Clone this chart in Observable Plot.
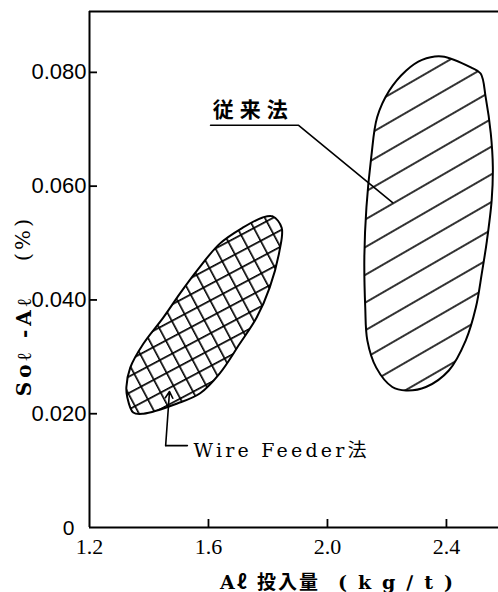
<!DOCTYPE html>
<html><head><meta charset="utf-8">
<script src="https://cdn.jsdelivr.net/npm/d3@7"></script>
<script src="https://cdn.jsdelivr.net/npm/@observablehq/plot@0.6"></script>
<style>body{margin:0;background:#fff} #chart svg{display:block}</style>
</head><body><div id="chart"></div>
<script>
// axis ticks
const xTicks = [1.2, 1.6, 2.0, 2.4];
const yTicks = [0.02, 0.04, 0.06, 0.08];
// Wire Feeder法 region outline (Aℓ kg/t, Soℓ-Aℓ %)
const wireFeeder = [
  [1.782, 0.0545], [1.816, 0.0547], [1.846, 0.0527], [1.839, 0.0487], [1.806, 0.0422],
  [1.762, 0.0369], [1.705, 0.0323], [1.638, 0.0271], [1.572, 0.0236], [1.495, 0.0218],
  [1.381, 0.0200], [1.347, 0.0202], [1.327, 0.0229], [1.324, 0.0247], [1.337, 0.0281],
  [1.381, 0.0323], [1.448, 0.0369], [1.505, 0.0412], [1.562, 0.0452], [1.638, 0.0499],
  [1.715, 0.0527]
];
// 従来法 region outline
const conventional = [
  [2.385, 0.0828], [2.485, 0.0808], [2.515, 0.0798], [2.532, 0.0756], [2.549, 0.0693],
  [2.556, 0.0633], [2.552, 0.0575], [2.536, 0.0504], [2.519, 0.0447], [2.499, 0.0387],
  [2.465, 0.0329], [2.408, 0.0276], [2.331, 0.0247], [2.264, 0.0241], [2.218, 0.0247],
  [2.164, 0.0281], [2.134, 0.0329], [2.127, 0.0387], [2.124, 0.0475], [2.131, 0.0563],
  [2.147, 0.0650], [2.167, 0.0721], [2.208, 0.0768], [2.264, 0.0803], [2.318, 0.0822]
];
// leader lines
const convLeader = [[1.607, 0.0707], [1.903, 0.0707], [2.219, 0.0571]];
const wireLeader = [[1.529, 0.0144], [1.456, 0.0144]];
const wireArrow = [{x1: 1.456, y1: 0.0144, x2: 1.469, y2: 0.0239}];
// annotation labels
const convLabel = [{x: 1.614, y: 0.0733, text: "従来法"}];
const wireLabel = [{x: 1.550, y: 0.0135, text: "Wire Feeder法"}];

const xDomain = [1.2, 2.575], yDomain = [0, 0.0907];
const W = 498, H = 592, ML = 89, MT = 11, MB = 65, TICK = 8;
// tick length (8 px) expressed in data units of each scale
const tickLenX = TICK * (xDomain[1] - xDomain[0]) / (W - ML);
const tickLenY = TICK * (yDomain[1] - yDomain[0]) / (H - MT - MB);
const px = d => d[0], py = d => d[1];
const chart = Plot.plot({
  width: W, height: H,
  marginLeft: ML, marginRight: 0, marginTop: MT, marginBottom: MB,
  x: {domain: xDomain},
  y: {domain: yDomain},
  style: {background: "#fff", color: "#000"},
  marks: [
    Plot.line(wireFeeder, {x: px, y: py, curve: "catmull-rom-closed", fill: "url(#cross)", stroke: "#000", strokeWidth: 2}),
    Plot.line(conventional, {x: px, y: py, curve: "catmull-rom-closed", fill: "url(#hatch)", stroke: "#000", strokeWidth: 2}),
    Plot.line(convLeader, {x: px, y: py, stroke: "#000", strokeWidth: 1.6}),
    Plot.line(wireLeader, {x: px, y: py, stroke: "#000", strokeWidth: 1.6}),
    Plot.arrow(wireArrow, {x1: "x1", y1: "y1", x2: "x2", y2: "y2", stroke: "#000", strokeWidth: 1.6, headLength: 7}),
    Plot.ruleX([xDomain[0]], {stroke: "#000", strokeWidth: 2}),
    Plot.ruleY([0], {stroke: "#000", strokeWidth: 2}),
    Plot.ruleY([yDomain[1]], {stroke: "#000", strokeWidth: 2}),
    // inward tick marks
    Plot.ruleX(xTicks.slice(1), {x: d => d, y1: 0, y2: tickLenY, stroke: "#000", strokeWidth: 1.8}),
    Plot.ruleY(yTicks, {y: d => d, x1: xDomain[0], x2: xDomain[0] + tickLenX, stroke: "#000", strokeWidth: 1.8}),
    Plot.axisY(yTicks, {tickSize: 0, tickPadding: 3, tickFormat: d3.format(".3f"), label: null,
      fontFamily: "Liberation Sans", fontSize: 22}),
    Plot.axisX(xTicks, {tickSize: 0, tickPadding: 11, tickFormat: d3.format(".1f"), label: null,
      fontFamily: "Liberation Serif", fontSize: 22}),
    Plot.text(["0"], {frameAnchor: "bottom-left", dx: -21, dy: 1, textAnchor: "middle", lineAnchor: "middle",
      fontFamily: "Liberation Sans", fontSize: 21}),
    Plot.text(convLabel, {x: "x", y: "y", text: "text", textAnchor: "start", fontFamily: "Noto Sans CJK JP",
      fontWeight: "bold", fontSize: 21}),
    Plot.text(wireLabel, {x: "x", y: "y", text: "text", textAnchor: "start", fontFamily: "DejaVu Serif, Noto Sans CJK JP",
      fontSize: 19}),
    Plot.text(["Soℓ -Aℓ"], {frameAnchor: "left", rotate: -90, dx: -65, dy: 76, textAnchor: "middle",
      fontFamily: "DejaVu Serif", fontWeight: "bold", fontSize: 20}),
    Plot.text(["(%)"], {frameAnchor: "left", rotate: -90, dx: -66, dy: -31, textAnchor: "middle",
      fontFamily: "DejaVu Serif", fontSize: 21}),
    Plot.text(["Aℓ 投入量"], {frameAnchor: "bottom", dx: -24, dy: 55, textAnchor: "middle", lineAnchor: "middle",
      fontFamily: "DejaVu Serif, Noto Sans CJK JP", fontWeight: "bold", fontSize: 19}),
    Plot.text(["(kg∕t)"], {frameAnchor: "bottom", dx: 107, dy: 55, textAnchor: "middle", lineAnchor: "middle",
      fontFamily: "DejaVu Serif", fontWeight: "bold", fontSize: 19})
  ]
});

d3.select(chart).insert("defs", ":first-child").html(`
  <pattern id="cross" patternUnits="userSpaceOnUse" width="14.5" height="14.5" patternTransform="rotate(-28)">
    <rect width="14.5" height="14.5" fill="#fff"/>
    <path d="M0 0.8H14.5M0.8 0V14.5" stroke="#000" stroke-width="1.7" fill="none"/>
  </pattern>
  <pattern id="hatch" patternUnits="userSpaceOnUse" width="24" height="24" patternTransform="rotate(-30)">
    <rect width="24" height="24" fill="#fff"/>
    <path d="M0 12H24" stroke="#000" stroke-width="1.6" fill="none"/>
  </pattern>`);
d3.select(chart).selectAll("text").each(function() {
  const t = this.textContent;
  if (t === "Wire Feeder法") this.setAttribute("letter-spacing", "3.2");
  if (t === "(kg∕t)") this.setAttribute("letter-spacing", "11");
  if (t === "Aℓ 投入量") this.setAttribute("letter-spacing", "2");
  if (t === "従来法") this.setAttribute("letter-spacing", "6");
  if (t === "Soℓ -Aℓ") this.setAttribute("letter-spacing", "4");
  if (t === "(%)") this.setAttribute("letter-spacing", "3");
});
document.getElementById("chart").append(chart);
</script>
</body></html>
